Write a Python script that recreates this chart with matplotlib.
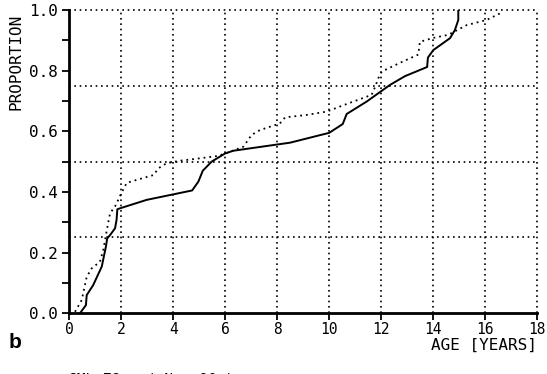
import matplotlib
matplotlib.use("Agg")
import matplotlib.pyplot as plt
from matplotlib.ticker import MultipleLocator

# ── data: cumulative proportion vs age ───────────────────────────────────────
solid_age = [0.41, 0.64, 0.67, 0.92, 1.25, 1.41, 1.46, 1.57, 1.76, 1.82, 1.85,
             1.95, 2.98, 4.73, 4.97, 5.14, 5.48, 6.00, 6.32, 8.50, 10.01,
             10.53, 10.68, 11.45, 12.35, 12.93, 13.78, 13.81, 14.02, 14.66,
             14.85, 14.98, 14.98]
solid_prop = [0.0, 0.027, 0.06, 0.093, 0.154, 0.22, 0.247, 0.258, 0.28, 0.308,
              0.343, 0.346, 0.374, 0.405, 0.434, 0.47, 0.50, 0.527, 0.536,
              0.5625, 0.595, 0.624, 0.657, 0.698, 0.753, 0.782, 0.812, 0.843,
              0.868, 0.907, 0.934, 0.967, 1.0]

dotted_age = [0.22, 0.48, 0.67, 0.86, 1.18, 1.31, 1.44, 1.57, 1.76, 1.97,
              2.21, 2.60, 3.25, 3.43, 3.75, 4.26, 5.03, 5.74, 6.00, 6.70,
              7.02, 7.34, 8.11, 8.31, 9.14, 9.91, 10.68, 11.64, 11.77, 11.90,
              12.03, 12.74, 13.44, 13.50, 14.02, 14.59, 15.30, 16.07, 16.71]
dotted_prop = [0.005, 0.044, 0.12, 0.148, 0.17, 0.209, 0.272, 0.33, 0.352,
               0.39, 0.43, 0.44, 0.456, 0.478, 0.495, 0.503, 0.511, 0.519,
               0.527, 0.549, 0.588, 0.604, 0.626, 0.646, 0.654, 0.665, 0.69,
               0.72, 0.745, 0.775, 0.797, 0.826, 0.853, 0.895, 0.908, 0.918,
               0.95, 0.967, 0.994]

x_ticks = list(range(0, 19, 2))
y_grid = [0.25, 0.5, 0.75, 1.0]
x_grid = list(range(2, 19, 2))

MONO = "DejaVu Sans Mono"
DOTS = (0, (1, 2.2))

# ── figure ────────────────────────────────────────────────────────────────────
fig = plt.figure(figsize=(5.47, 3.74), dpi=100)
ax = fig.add_axes([0.1267, 0.1623, 0.8545, 0.811])

# dotted grid; the lines on the top/right edge stand in for the frame
for g in y_grid:
    ax.axhline(g, color="black", lw=1.2, ls=DOTS, zorder=1, clip_on=False)
for g in x_grid:
    ax.axvline(g, color="black", lw=1.2, ls=DOTS, zorder=1, clip_on=False)

ax.plot(solid_age, solid_prop, color="black", lw=1.4, zorder=3)
ax.plot(dotted_age, dotted_prop, color="black", lw=1.3, ls=DOTS, zorder=3)

ax.set_xlim(0, 18)
ax.set_ylim(0, 1.0)
ax.set_xticks(x_ticks)
ax.yaxis.set_major_locator(MultipleLocator(0.2))
ax.yaxis.set_minor_locator(MultipleLocator(0.1))
ax.yaxis.set_major_formatter(lambda v, _: f"{v:.1f}")

for s in ("top", "right"):
    ax.spines[s].set_visible(False)
for s in ("left", "bottom"):
    ax.spines[s].set_linewidth(2.0)

ax.tick_params(axis="both", which="both", direction="out", width=1.3,
               colors="black")
ax.tick_params(axis="y", which="major", length=5, pad=3, labelsize=11.5)
ax.tick_params(axis="y", which="minor", length=5)
ax.tick_params(axis="x", which="major", length=5, pad=1.5, labelsize=10.5)
for lab in ax.get_xticklabels() + ax.get_yticklabels():
    lab.set_family(MONO)

ax.set_ylabel("PROPORTION", family=MONO, fontsize=11.5)
ax.yaxis.set_label_coords(-0.099, 0.83)

fig.text(0.982, 0.076, "AGE [YEARS]", family=MONO, fontsize=11.5,
         ha="right", va="center")
fig.text(0.015, 0.083, "b", fontsize=15, fontweight="bold", va="center",
         family="Liberation Sans")
fig.text(0.125, 0.004, "CML 78   ( N = 90 )", family=MONO, fontsize=10.5,
         va="top")

fig.savefig("out.png", dpi=100)
